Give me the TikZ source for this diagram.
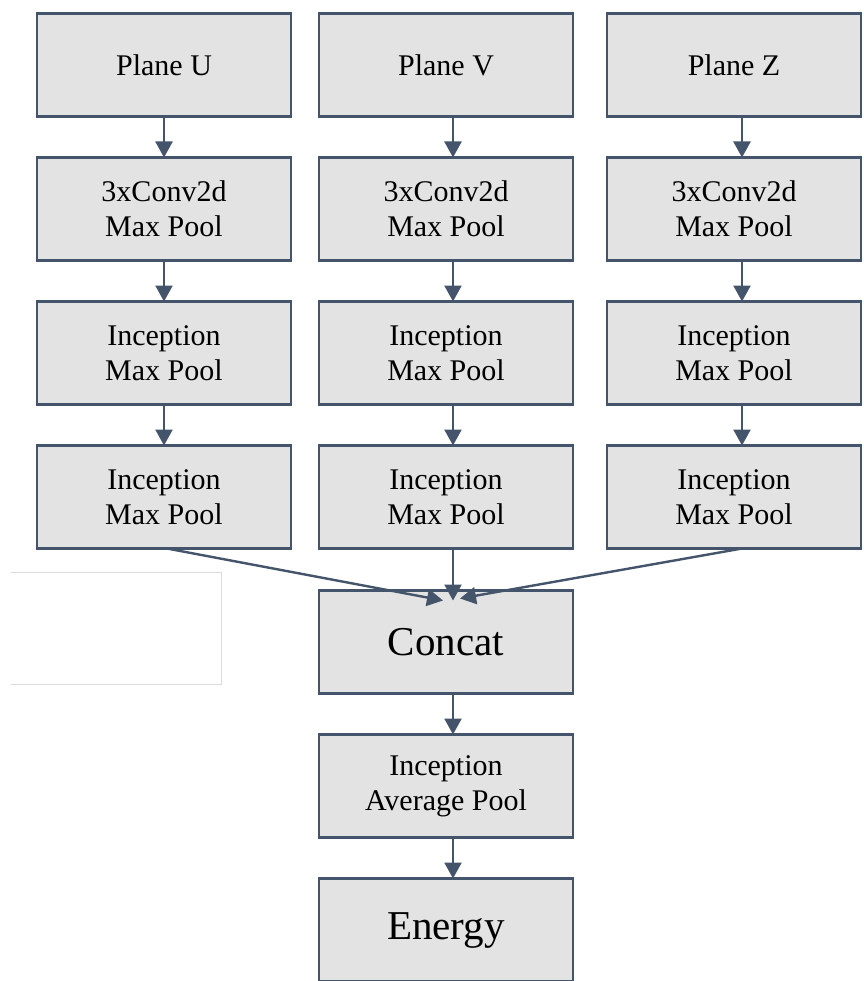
\documentclass[tikz,border=0pt]{standalone}
\usepackage{fontspec}
\setmainfont{Liberation Serif}
\usetikzlibrary{arrows.meta, positioning}
\definecolor{edgeblue}{HTML}{44546A}
\definecolor{boxgray}{HTML}{E3E3E3}

\begin{document}
\begin{tikzpicture}[x=1pt, y=1pt,
    node distance=41pt,
    box/.style={rectangle, draw=edgeblue, line width=2.4pt, fill=boxgray,
                minimum width=254pt, minimum height=103pt, outer sep=0pt,
                align=center, font=\fontsize{30}{35}\selectfont},
    bigbox/.style={box, font=\fontsize{41}{49}\selectfont},
    arr/.style={-{Triangle[length=16pt, width=17pt]}, line width=2.4pt, draw=edgeblue}
  ]
    \useasboundingbox (0,0) rectangle (863,-981);

    % three input branches
    \node[box] (u1) at (164,-65) {Plane U};
    \node[box] (v1) at (446,-65) {Plane V};
    \node[box] (z1) at (734,-65) {Plane Z};
    \foreach \c in {u,v,z} {
      \node[box, below=of \c1] (\c2) {3xConv2d\\Max Pool};
      \node[box, below=of \c2] (\c3) {Inception\\Max Pool};
      \node[box, below=of \c3] (\c4) {Inception\\Max Pool};
    }

    % merged trunk
    \node[bigbox, below=42pt of v4] (concat) {Concat};
    \node[box, below=of concat] (avg) {Inception\\Average Pool};
    \node[bigbox, below=of avg] (energy) {Energy};

    % faint frame at the left
    \draw[black!14, line width=0.8pt] (11,-572) -- (221,-572) -- (221,-684) -- (11,-684);

    \foreach \c/\s in {u/0pt, v/7pt, z/8pt} {
      \draw[arr] ([xshift=\s]\c1.south) -- ([xshift=\s]\c2.north);
      \draw[arr] ([xshift=\s]\c2.south) -- ([xshift=\s]\c3.north);
      \draw[arr] ([xshift=\s]\c3.south) -- ([xshift=\s]\c4.north);
    }

    \draw[arr] ([xshift=3pt]u4.south) -- ([shift={(-3pt,-10pt)}]concat.north);
    \draw[arr] ([xshift=7pt]v4.south) -- ([shift={(7pt,-10pt)}]concat.north);
    \draw[arr] ([xshift=8pt]z4.south) -- ([shift={(14pt,-8pt)}]concat.north);
    \draw[arr] ([xshift=7pt]concat.south) -- ([xshift=7pt]avg.north);
    \draw[arr] ([xshift=7pt]avg.south) -- ([xshift=7pt]energy.north);
  \end{tikzpicture}
\end{document}
